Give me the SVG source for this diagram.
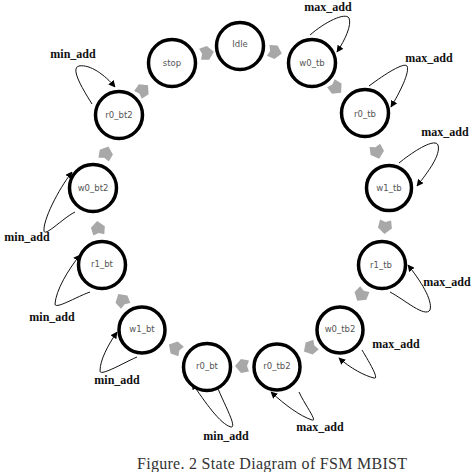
<svg xmlns="http://www.w3.org/2000/svg" width="474" height="472" viewBox="0 0 474 472">
<style>
.st circle{fill:#fff;stroke:#000;stroke-width:3.5}
.st text{font-family:"DejaVu Sans",sans-serif;font-size:8.5px;fill:#555;text-anchor:middle;dominant-baseline:central}
.loop{fill:none;stroke:#111;stroke-width:1}
.lbl{font-family:"Liberation Serif",serif;font-weight:bold;font-size:12px;fill:#111;text-anchor:middle}
.cap{font-family:"Liberation Serif",serif;font-size:16px;fill:#333;text-anchor:middle}
.ga{fill:#a8a8a8}
</style>
<defs>
<marker id="ah" viewBox="0 0 10 10" refX="9" refY="5" markerWidth="7" markerHeight="7" orient="auto" markerUnits="userSpaceOnUse">
<path d="M0,0 L10,5 L0,10 Z" fill="#000"/>
</marker>
<polygon id="blk" points="-7,-5.5 1,-7 7,0 1,7 -7,5.5 -5,0"/>
</defs>
<g id="connectors">
<g class="ga">
<use href="#blk" transform="translate(143,90) rotate(-44)"/>
<use href="#blk" transform="translate(207,53) rotate(-10)"/>
<use href="#blk" transform="translate(275,52) rotate(13)"/>
<use href="#blk" transform="translate(336,88) rotate(43)"/>
<use href="#blk" transform="translate(377,152) rotate(72)"/>
<use href="#blk" transform="translate(385,227) rotate(95)"/>
<use href="#blk" transform="translate(361,295) rotate(123)"/>
<use href="#blk" transform="translate(310,348) rotate(150)"/>
<use href="#blk" transform="translate(242,366) rotate(180)"/>
<use href="#blk" transform="translate(175,348) rotate(210)"/>
<use href="#blk" transform="translate(122,300) rotate(-122)"/>
<use href="#blk" transform="translate(98,228) rotate(-97)"/>
<use href="#blk" transform="translate(106,153) rotate(-70)"/>
</g>
<path class="loop" marker-end="url(#ah)" d="M92,104 C82,88 70,68 79,66 C90,64 105,75 115,87"/>
<path class="loop" marker-end="url(#ah)" d="M310,35 C325,22 345,12 349,18 C352,25 345,40 337,52"/>
<path class="loop" marker-end="url(#ah)" d="M369,86 C385,74 404,62 407,66 C410,72 400,92 391,107"/>
<path class="loop" marker-end="url(#ah)" d="M399,163 C415,150 435,138 438,145 C441,155 428,172 417,186"/>
<path class="loop" marker-end="url(#ah)" d="M390,292 C405,300 425,318 430,310 C433,300 420,280 408,265"/>
<path class="loop" marker-end="url(#ah)" d="M362,350 C368,360 380,380 374,378 C365,376 350,368 339,358"/>
<path class="loop" marker-end="url(#ah)" d="M299,392 C305,405 318,422 312,420 C300,416 285,405 271,392"/>
<path class="loop" marker-end="url(#ah)" d="M217,386 C222,400 238,428 231,427 C220,424 205,402 192,383"/>
<path class="loop" marker-end="url(#ah)" d="M137,357 C125,362 100,377 100,371 C100,360 108,345 117,332"/>
<path class="loop" marker-end="url(#ah)" d="M90,292 C78,296 55,310 55,304 C56,290 68,270 80,255"/>
<path class="loop" marker-end="url(#ah)" d="M75,212 C63,218 45,237 44,231 C43,220 58,190 72,172"/>
</g>
<g id="labels">
<text class="lbl" x="73" y="58">min_add</text>
<text class="lbl" x="328" y="11">max_add</text>
<text class="lbl" x="429" y="62">max_add</text>
<text class="lbl" x="445" y="136">max_add</text>
<text class="lbl" x="447" y="286">max_add</text>
<text class="lbl" x="396" y="348">max_add</text>
<text class="lbl" x="320" y="431">max_add</text>
<text class="lbl" x="226" y="440">min_add</text>
<text class="lbl" x="117" y="384">min_add</text>
<text class="lbl" x="52" y="321">min_add</text>
<text class="lbl" x="27" y="241">min_add</text>
</g>
<g id="stop" class="st"><circle cx="172" cy="63" r="23.5"/><text x="172" y="63">stop</text></g>
<g id="idle" class="st"><circle cx="240" cy="46" r="23.5"/><text x="240" y="44">Idle</text></g>
<g id="w0_tb" class="st"><circle cx="312" cy="63" r="23.5"/><text x="312" y="63">w0_tb</text></g>
<g id="r0_tb" class="st"><circle cx="365" cy="113" r="23.5"/><text x="365" y="114">r0_tb</text></g>
<g id="w1_tb" class="st"><circle cx="389" cy="188" r="22.5"/><text x="389" y="188">w1_tb</text></g>
<g id="r1_tb" class="st"><circle cx="382" cy="265" r="23.5"/><text x="381" y="265">r1_tb</text></g>
<g id="w0_tb2" class="st"><circle cx="340" cy="330" r="23"/><text x="340" y="329">w0_tb2</text></g>
<g id="r0_tb2" class="st"><circle cx="277" cy="367" r="23"/><text x="277" y="366">r0_tb2</text></g>
<g id="r0_bt" class="st"><circle cx="207" cy="367" r="23.5"/><text x="207" y="366">r0_bt</text></g>
<g id="w1_bt" class="st"><circle cx="142" cy="330" r="23"/><text x="142" y="329">w1_bt</text></g>
<g id="r1_bt" class="st"><circle cx="102" cy="265" r="23.5"/><text x="102" y="264">r1_bt</text></g>
<g id="w0_bt2" class="st"><circle cx="93" cy="188" r="23.5"/><text x="93" y="188">w0_bt2</text></g>
<g id="r0_bt2" class="st"><circle cx="119" cy="115" r="23.5"/><text x="119" y="115">r0_bt2</text></g>
<text class="cap" x="272" y="469" textLength="270">Figure. 2 State Diagram of FSM MBIST</text>
</svg>
